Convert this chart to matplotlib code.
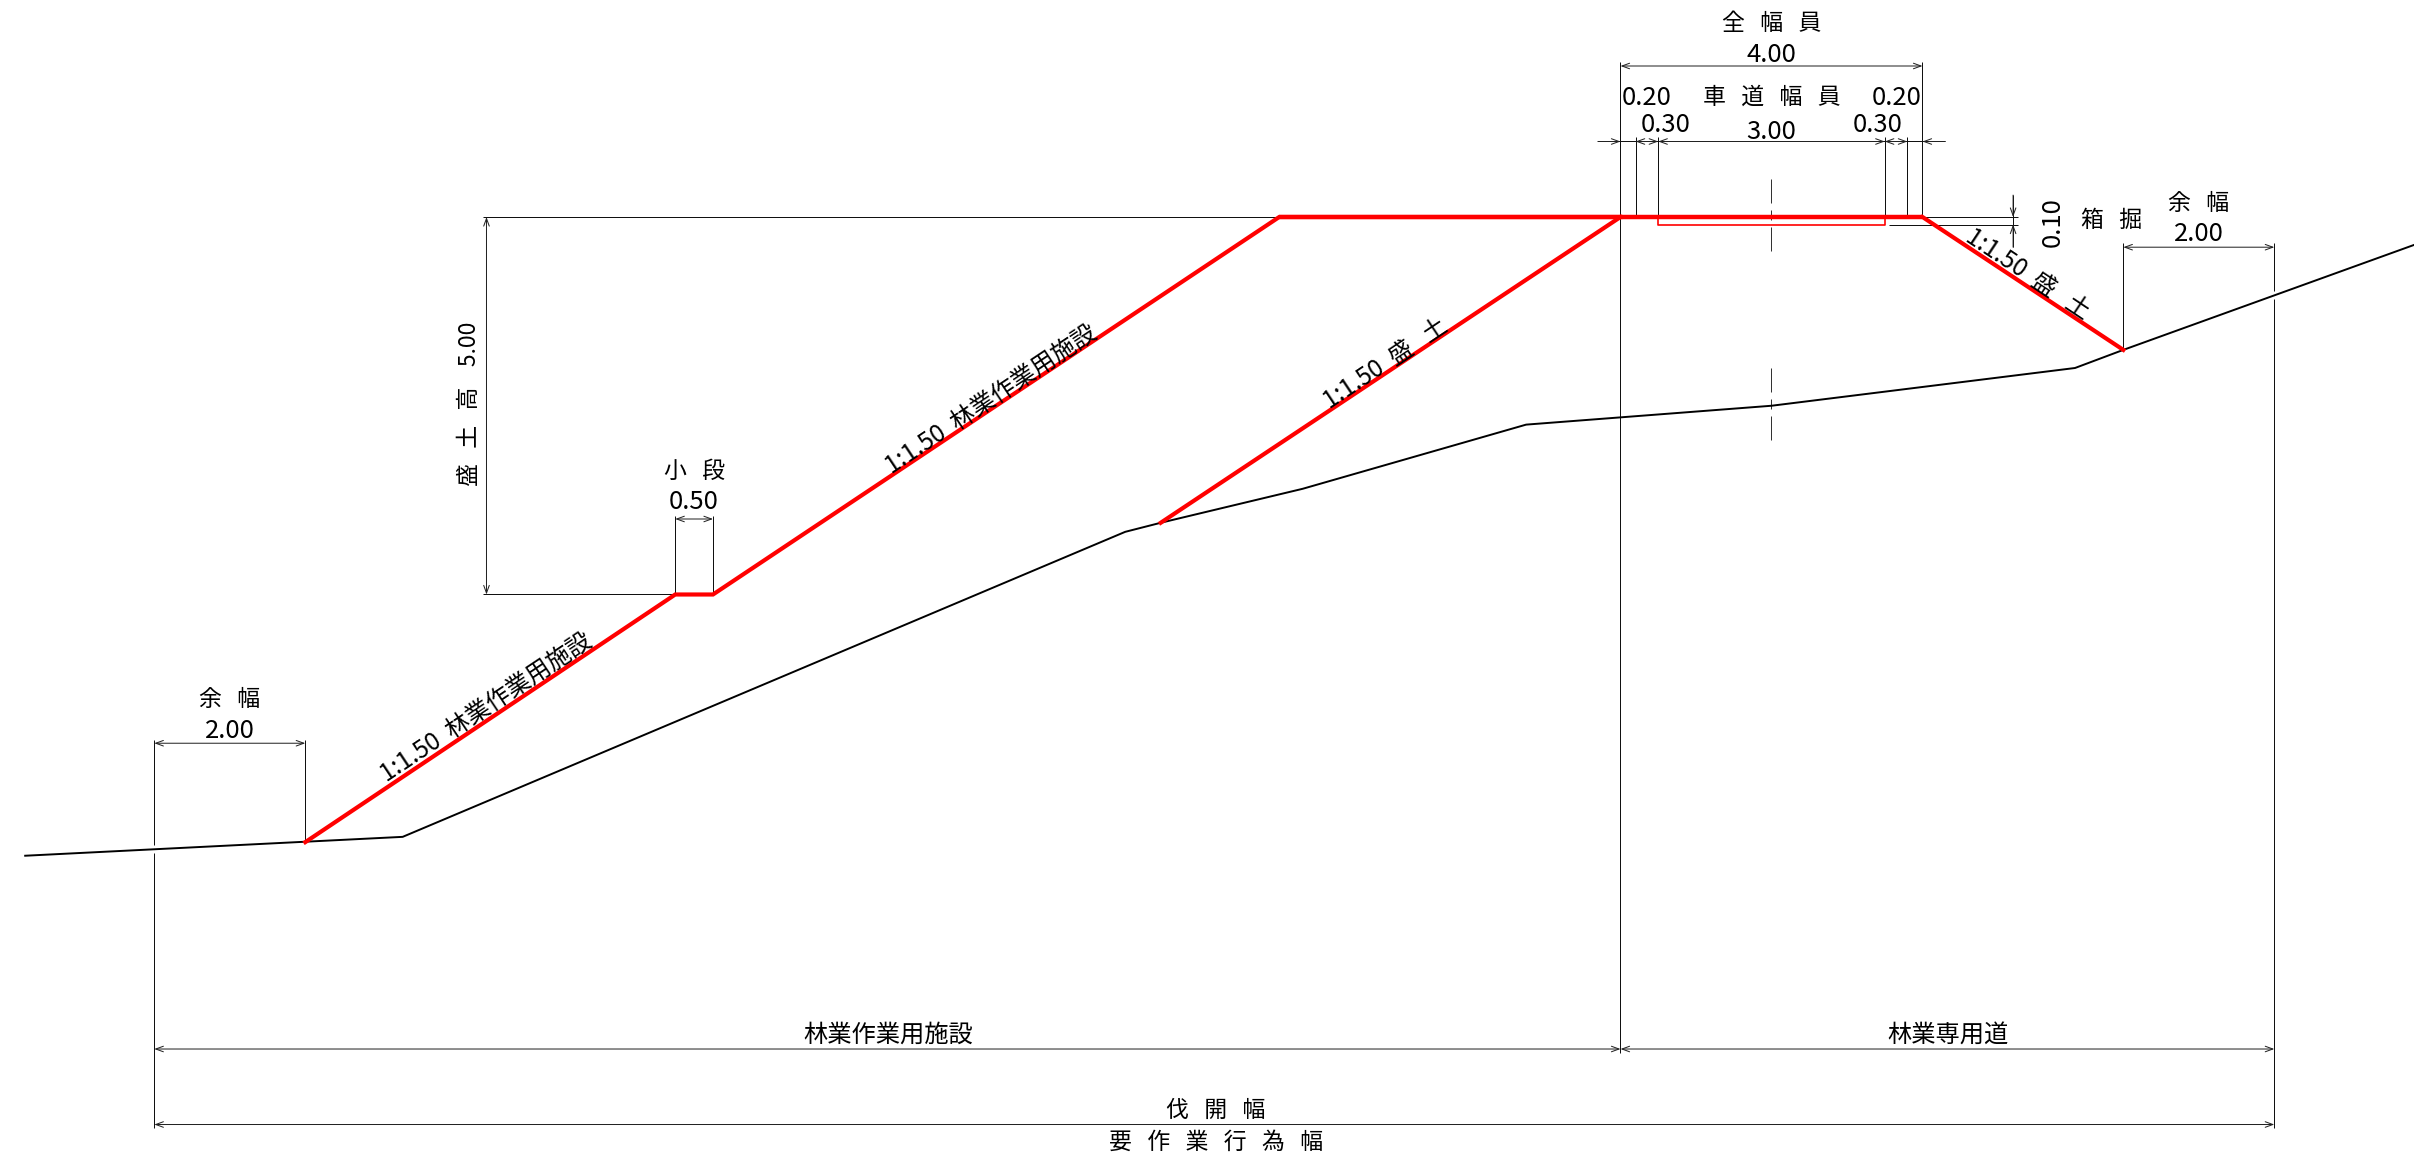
import matplotlib
matplotlib.use("Agg")
import matplotlib.pyplot as plt

plt.rcParams['font.family'] = ['Noto Sans CJK JP', 'DejaVu Sans']

# everything in metres, x=0 at left road edge, y=0 at road level
ground_x = [-21.13, -16.13, -6.56, -6.09, -4.21, -1.25, 2.00, 6.02, 6.66, 10.51]
ground_y = [-8.46, -8.21, -4.17, -4.05, -3.60, -2.75, -2.50, -2.00, -1.76, -0.37]

facility_x = [-17.42, -12.52, -12.02, -4.52, 0.0]
facility_y = [-8.28, -5.00, -5.00, 0.0, 0.0]
road_x = [-4.52, 4.0]
road_y = [0.0, 0.0]
left_fill_x = [-6.09, 0.0]
left_fill_y = [-4.05, 0.0]
right_fill_x = [4.0, 6.66]
right_fill_y = [0.0, -1.76]
box_x = [0.5, 0.5, 3.5, 3.5]
box_y = [0.0, -0.10, -0.10, 0.0]

full_width = 4.00
carriage_width = 3.00
shoulder = 0.20
side_strip = 0.30
margin = 2.00
berm = 0.50
fill_height = 5.00
box_depth = 0.10

PX = 75.5  # px per metre
THIN = 0.72
TEXT = 16.5
LONG = 17.5
SLOPE = 17.5
DIGIT = 18.5

fig = plt.figure(figsize=(24.14, 11.69), dpi=100)
ax = fig.add_axes([0, 0, 1, 1])
ax.set_xlim(-1620.5 / PX, (2414 - 1620.5) / PX)
ax.set_ylim((217 - 1169) / PX, 217 / PX)
ax.axis('off')


def thin(xs, ys):
    ax.plot(xs, ys, color='#111111', lw=THIN, solid_capstyle='butt', zorder=1)


def arrow(x0, y0, x1, y1, style='<->'):
    ax.annotate('', xy=(x1, y1), xytext=(x0, y0),
                arrowprops=dict(arrowstyle=style + ',head_length=0.55,head_width=0.2',
                                color='#222222', lw=THIN, shrinkA=0, shrinkB=0),
                zorder=2)


def label(x, y, s, size=TEXT, rot=0):
    ax.text(x, y, s, fontsize=size, rotation=rot, rotation_mode='anchor',
            ha='center', va='center', color='black', zorder=5)


# ground and cut/fill lines
ax.plot(ground_x, ground_y, color='black', lw=1.4, zorder=3)
ax.plot(facility_x, facility_y, color='#ff0000', lw=3.0, solid_joinstyle='miter', zorder=4)
ax.plot(road_x, road_y, color='#ff0000', lw=3.2, solid_capstyle='butt', zorder=4)
ax.plot(left_fill_x, left_fill_y, color='#ff0000', lw=3.0, zorder=4)
ax.plot(right_fill_x, right_fill_y, color='#ff0000', lw=3.0, zorder=4)
ax.plot(box_x, box_y, color='#ff0000', lw=1.2, zorder=4)

# centre line, dashes in px because lw is 1 px
for top, bottom in [(0.5, -0.5), (-2.0, -3.0)]:
    ax.plot([full_width / 2] * 2, [top, bottom], color='#333333', lw=THIN,
            linestyle=(0, (24, 7, 10, 7)), dash_capstyle='butt', zorder=2)

# extension lines
left_edge = facility_x[0] - margin
right_edge = right_fill_x[1] + margin
gap = 0.05
thin([0, 0], [2.05, -11.07])
thin([full_width] * 2, [2.05, 0])
for x in [shoulder, shoulder + side_strip, shoulder + side_strip + carriage_width,
          full_width - shoulder]:
    thin([x, x], [1.06, 0])
thin([left_edge] * 2, [-6.93, -8.37 + gap])
thin([left_edge] * 2, [-8.37 - gap, -12.07])
thin([facility_x[0]] * 2, [-6.93, facility_y[0]])
thin([right_edge] * 2, [-0.35, -1.03 + gap])
thin([right_edge] * 2, [-1.03 - gap, -12.07])
thin([right_fill_x[1]] * 2, [-0.35, right_fill_y[1]])
thin([-15.06, -4.52], [0, 0])
thin([-15.06, -12.52], [-5, -5])
thin([-12.52] * 2, [-3.96, -5])
thin([-12.02] * 2, [-3.96, -5])
thin([4.0, 5.26], [0, 0])
thin([3.55, 5.26], [-box_depth, -box_depth])

# dimension lines
arrow(0, 2.0, full_width, 2.0)
thin([-0.3, full_width + 0.3], [1.0, 1.0])
arrow(-0.3, 1.0, 0, 1.0, '->')
arrow(full_width + 0.3, 1.0, full_width, 1.0, '->')
arrow(0.2, 1.0, 0.5, 1.0)
arrow(0.5, 1.0, 3.5, 1.0)
arrow(3.5, 1.0, 3.8, 1.0)
arrow(facility_x[0] - margin, -6.97, facility_x[0], -6.97)
arrow(right_fill_x[1], -0.40, right_edge, -0.40)
arrow(-12.52, -4.0, -12.52 + berm, -4.0)
arrow(-15.02, 0, -15.02, -fill_height)
thin([5.2, 5.2], [0.29, -0.4])
arrow(5.2, 0.29, 5.2, 0, '->')
arrow(5.2, -0.4, 5.2, -box_depth, '->')
arrow(left_edge, -11.02, 0, -11.02)
arrow(0, -11.02, right_edge, -11.02)
arrow(left_edge, -12.02, right_edge, -12.02)

# labels
angle = 33.69
label(2.0, 2.56, '全   幅   員')
label(2.0, 2.15, f'{full_width:.2f}', DIGIT)
label(0.35, 1.58, f'{shoulder:.2f}', DIGIT)
label(3.66, 1.58, f'{shoulder:.2f}', DIGIT)
label(2.0, 1.58, '車   道   幅   員')
label(0.60, 1.22, f'{side_strip:.2f}', DIGIT)
label(3.40, 1.22, f'{side_strip:.2f}', DIGIT)
label(2.0, 1.13, f'{carriage_width:.2f}', DIGIT)
label(5.72, -0.07, f'{box_depth:.2f}', DIGIT, 90)
label(6.51, -0.04, '箱   掘')
label(7.66, 0.18, '余   幅')
label(7.66, -0.23, f'{margin:.2f}', DIGIT)
label(5.40, -0.76, '1:1.50  盛   土', SLOPE, -angle)
label(-18.42, -6.39, '余   幅')
label(-18.42, -6.81, f'{margin:.2f}', DIGIT)
label(-12.27, -3.37, '小   段')
label(-12.27, -3.77, f'{berm:.2f}', DIGIT)
label(-15.24, -2.47, f'盛   土   高    {fill_height:.2f}', TEXT, 90)
label(-15.02, -6.49, '1:1.50  林業作業用施設', SLOPE, angle)
label(-8.33, -2.41, '1:1.50  林業作業用施設', SLOPE, angle)
label(-3.11, -1.94, '1:1.50  盛   土', SLOPE, angle)
label(-9.70, -10.83, '林業作業用施設', LONG)
label(4.34, -10.83, '林業専用道', LONG)
label(-5.36, -11.84, '伐   開   幅')
label(-5.36, -12.25, '要   作   業   行   為   幅')

fig.savefig('out.png', dpi=100, facecolor='white')
